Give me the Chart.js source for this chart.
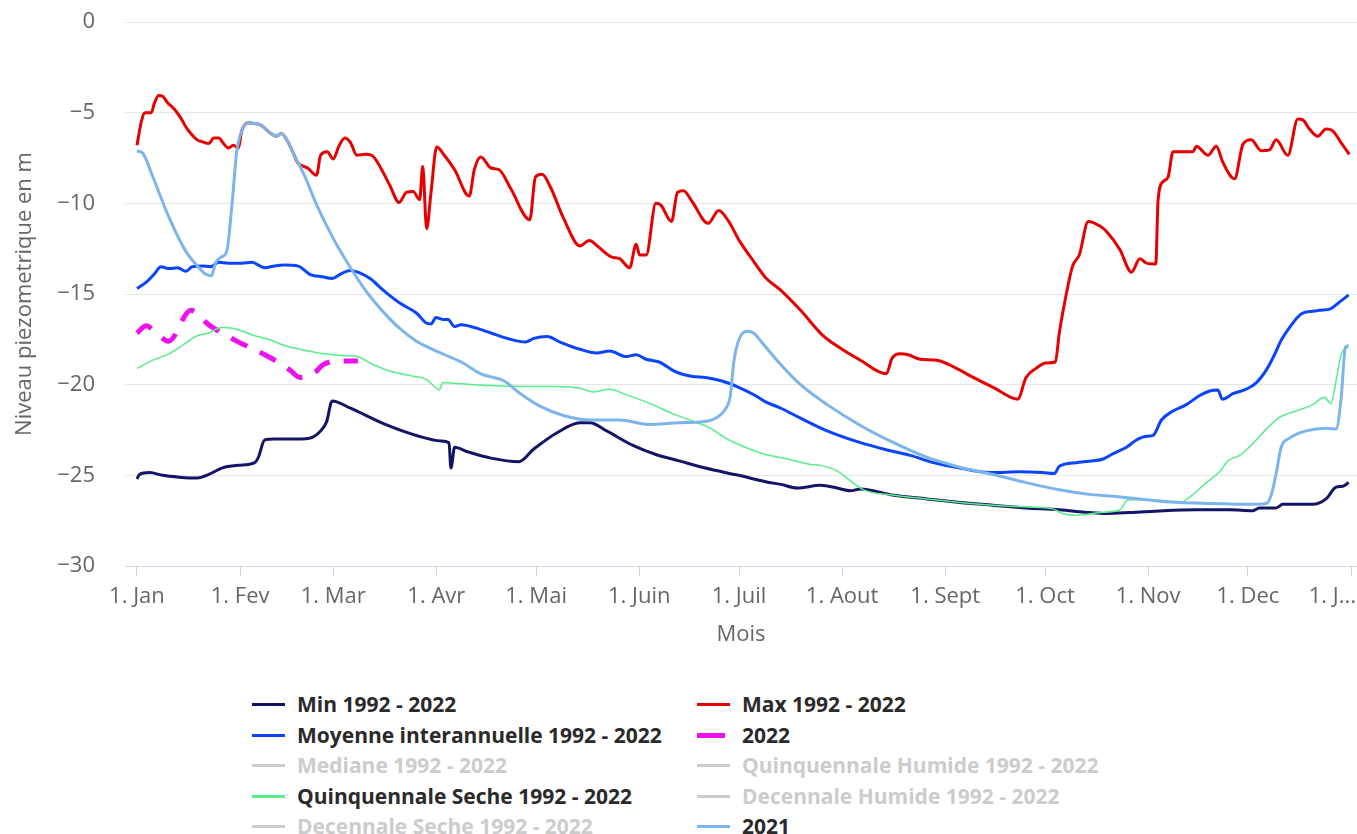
<!DOCTYPE html>
<html>
<head>
<meta charset="utf-8">
<script src="https://cdn.jsdelivr.net/npm/chart.js@4.4.0/dist/chart.umd.min.js"></script>
<style>
  body { margin: 0; background: #fff; width: 1357px; height: 834px; overflow: hidden; position: relative; font-family: "Open Sans", sans-serif; }
  #wrap { position: absolute; left: 0; top: 0; width: 1357px; height: 660px; }
  .leg { position: absolute; font-weight: bold; font-size: 21px; line-height: 24px; color: #2a2a2a; white-space: nowrap; }
  .leg i { position: absolute; left: -45px; top: 11px; width: 33px; height: 3px; }
</style>
</head>
<body>
<div id="wrap"><canvas id="myChart"></canvas></div>
<div id="legend"></div>
<script>
// axis
let monthStart = [0, 31, 59, 90, 120, 151, 181, 212, 243, 273, 304, 334, 365];
let monthLabels = ['1. Jan', '1. Fev', '1. Mar', '1. Avr', '1. Mai', '1. Juin', '1. Juil', '1. Aout', '1. Sept', '1. Oct', '1. Nov', '1. Dec', '1. J...'];
let levelTicks = [0, -5, -10, -15, -20, -25, -30];

// Min 1992 - 2022
let minDays = [0, 0.8, 3.8, 7.7, 12.7, 18.1, 21.6, 25.5, 30.5, 35.4, 36.4, 38.4, 41.4, 46.3, 51.8, 55.2, 57, 58.7, 64.2, 74.1, 84, 91.4, 93.8, 94.4, 95.5, 99.4, 106.4, 114.8, 119.3, 126.3, 133.2, 136.2, 141.2, 149.1, 156, 163, 170.9, 180.9, 189, 193.6, 198.5, 205.5, 210.5, 214.5, 217.5, 227.5, 237.4, 247.4, 257.4, 267.3, 277.3, 286.3, 291.5, 298.5, 308.5, 318.5, 328.5, 335.5, 337.5, 342.5, 344.5, 353.5, 357.5, 360.5, 362.5, 364.3];
let minLevels = [-25.2, -24.95, -24.85, -25.0, -25.1, -25.15, -24.95, -24.6, -24.45, -24.3, -24.05, -23.05, -23.0, -23.0, -22.95, -22.55, -22.05, -20.9, -21.3, -22.15, -22.8, -23.1, -23.2, -24.6, -23.45, -23.7, -24.05, -24.25, -23.55, -22.65, -22.1, -22.1, -22.55, -23.35, -23.85, -24.2, -24.6, -25.0, -25.35, -25.5, -25.7, -25.55, -25.7, -25.85, -25.75, -26.1, -26.3, -26.5, -26.65, -26.8, -26.9, -27.05, -27.1, -27.05, -26.95, -26.9, -26.9, -26.95, -26.8, -26.8, -26.6, -26.6, -26.3, -25.65, -25.6, -25.4];

// Max 1992 - 2022
let maxDays = [0, 1.3, 2.3, 4.3, 5.2, 6.5, 7.7, 9.2, 11.2, 13.2, 15.1, 18.1, 19.6, 21.6, 23.1, 24.6, 26, 27.5, 29, 30.5, 31.5, 33.5, 35.4, 37.4, 39.9, 41.9, 43.4, 44.9, 47.3, 48.3, 51.3, 54, 55.2, 57.2, 59, 60.7, 62.5, 64.2, 66.1, 68.6, 70.6, 73, 76, 78.8, 81, 83, 85, 85.9, 87.1, 88.4, 90.1, 92.4, 95.5, 99.9, 101.4, 103.4, 106.4, 108.9, 112.4, 118.1, 119.8, 121.8, 124.3, 128.2, 133.2, 136, 138.7, 142.6, 145.1, 148.1, 150.1, 151.1, 153.1, 156, 157.5, 160.7, 162.5, 164.3, 166.9, 171.7, 174.9, 177.9, 180.9, 185.4, 189, 193.6, 199.5, 206, 212, 217.5, 225.3, 227, 229.4, 231.9, 235.4, 240.4, 246.4, 251.4, 257.4, 264.8, 267.3, 270.3, 273.3, 276.1, 277.3, 279.3, 281.3, 283.3, 286, 289.5, 291.5, 295.5, 299, 301.5, 303.5, 306.3, 307, 308.5, 310, 311.5, 317.5, 318.5, 322, 324.5, 326.5, 330, 332.5, 335, 338, 340.5, 342.5, 346, 349, 350.5, 352.5, 355, 357.5, 359.5, 362, 364.5];
let maxLevels = [-6.8, -5.5, -5.0, -5.0, -4.5, -4.05, -4.1, -4.45, -4.8, -5.3, -5.9, -6.5, -6.6, -6.7, -6.4, -6.4, -6.7, -6.95, -6.8, -6.95, -6.0, -5.55, -5.6, -5.7, -6.1, -6.3, -6.15, -6.45, -7.35, -7.75, -8.05, -8.45, -7.35, -7.15, -7.55, -6.85, -6.4, -6.65, -7.35, -7.3, -7.35, -7.95, -9.0, -9.95, -9.4, -9.35, -9.8, -7.95, -11.4, -9.4, -6.9, -7.35, -8.15, -9.6, -8.15, -7.45, -8.05, -8.15, -9.2, -10.9, -8.55, -8.4, -9.1, -10.8, -12.35, -12.05, -12.4, -12.95, -13.05, -13.55, -12.25, -12.85, -12.85, -10.0, -10.1, -11.0, -9.4, -9.3, -9.9, -11.1, -10.4, -11.0, -12.0, -13.2, -14.1, -14.8, -15.9, -17.25, -18.05, -18.65, -19.4, -18.55, -18.3, -18.35, -18.6, -18.65, -19.1, -19.6, -20.15, -20.8, -19.6, -19.1, -18.8, -18.75, -17.15, -15.1, -13.45, -12.85, -11.0, -11.25, -11.55, -12.55, -13.8, -13.05, -13.3, -13.35, -9.8, -8.8, -8.55, -7.15, -7.15, -6.85, -7.35, -6.85, -7.75, -8.65, -6.75, -6.5, -7.1, -7.05, -6.5, -7.35, -5.35, -5.4, -5.9, -6.3, -5.9, -6.0, -6.65, -7.3];

// Moyenne interannuelle 1992 - 2022
let meanDays = [0, 2.8, 5.2, 7.2, 9.7, 12.2, 14.7, 16.6, 19.6, 22.1, 24.6, 27.5, 31.5, 34.5, 38.4, 41.4, 44.4, 48.3, 52.3, 55.7, 58.7, 61.2, 64.2, 67.1, 70.1, 74.1, 79, 84, 87, 88.4, 89.9, 91.9, 93.5, 95.5, 97.5, 101.4, 106.4, 111.4, 116.8, 119.3, 123.3, 127.2, 133.2, 138.2, 142.1, 147.1, 150.1, 153.1, 157, 162, 167, 170.9, 175.9, 180.9, 185.9, 189, 193.6, 199.5, 207.5, 217.5, 225.5, 232.5, 239.4, 247.4, 257.4, 265.3, 272.3, 275.8, 277.3, 282.3, 287.5, 290.5, 293.5, 297.5, 300.5, 303.5, 305.5, 308, 311.5, 315.5, 319.5, 322.5, 325, 326.3, 329.5, 333.5, 336.5, 339.5, 342, 344, 346.5, 350, 353.5, 355.5, 359, 361.5, 364.3];
let meanLevels = [-14.7, -14.35, -13.9, -13.5, -13.6, -13.55, -13.75, -13.5, -13.45, -13.5, -13.25, -13.3, -13.3, -13.25, -13.55, -13.45, -13.4, -13.45, -13.95, -14.05, -14.15, -13.9, -13.7, -13.85, -14.15, -14.8, -15.5, -16.05, -16.6, -16.65, -16.3, -16.4, -16.4, -16.8, -16.7, -16.85, -17.15, -17.45, -17.65, -17.45, -17.35, -17.65, -18.05, -18.25, -18.15, -18.45, -18.35, -18.6, -18.75, -19.3, -19.55, -19.6, -19.8, -20.15, -20.6, -20.95, -21.3, -21.85, -22.55, -23.2, -23.6, -23.9, -24.3, -24.6, -24.85, -24.8, -24.85, -24.9, -24.5, -24.3, -24.2, -24.1, -23.8, -23.45, -23.05, -22.85, -22.8, -21.95, -21.45, -21.1, -20.6, -20.35, -20.3, -20.8, -20.5, -20.25, -19.9, -19.2, -18.35, -17.55, -16.85, -16.1, -15.95, -15.9, -15.8, -15.45, -15.05];

// 2022
let y2022Days = [0, 2.8, 5, 9.5, 16.2, 21.6, 30, 40, 46, 49, 53, 56, 60, 66.4];
let y2022Levels = [-17.15, -16.75, -17.0, -17.6, -15.9, -16.7, -17.6, -18.5, -19.2, -19.6, -19.4, -18.9, -18.7, -18.7];

// Quinquennale Seche 1992 - 2022
let dryDays = [0, 4.8, 10.2, 12.7, 15.1, 18.1, 21.6, 23.6, 25.5, 29, 32.5, 35.4, 39.4, 45.3, 50.3, 56.2, 62.2, 66.1, 71.1, 76, 82, 86.9, 89.4, 90.9, 91.9, 93, 97.5, 106.4, 116.3, 126.3, 133.2, 137.2, 142.1, 147.1, 155, 161, 167, 172.9, 176.9, 182.9, 189, 195.6, 202.5, 205.5, 210.5, 214.5, 218.5, 227.5, 237.4, 247.4, 257.4, 267.3, 275.3, 278.3, 283, 289.5, 295.5, 298, 303.5, 309.5, 313.5, 316.5, 321.5, 325.5, 328, 331.5, 335.5, 339.5, 343.5, 348.5, 353.5, 357, 359, 360.5, 362, 363, 364];
let dryLevels = [-19.1, -18.65, -18.25, -17.95, -17.65, -17.3, -17.15, -16.95, -16.85, -16.9, -17.1, -17.3, -17.5, -17.9, -18.1, -18.3, -18.4, -18.45, -18.9, -19.25, -19.5, -19.7, -20.1, -20.3, -19.9, -19.9, -19.95, -20.05, -20.1, -20.1, -20.2, -20.4, -20.25, -20.55, -21.1, -21.6, -22.0, -22.45, -22.95, -23.45, -23.85, -24.1, -24.4, -24.45, -24.75, -25.3, -25.8, -26.1, -26.3, -26.5, -26.65, -26.75, -26.85, -27.1, -27.2, -27.05, -26.9, -26.35, -26.35, -26.5, -26.5, -26.2, -25.4, -24.8, -24.2, -23.9, -23.25, -22.45, -21.8, -21.45, -21.1, -20.7, -21.05, -19.8, -18.35, -18.05, -17.95];

// 2021
let y2021Days = [0, 1.8, 4.8, 9.7, 14.7, 18.1, 20.6, 22.4, 23.6, 25.5, 27, 28.5, 30, 31.5, 33.5, 35.4, 37.4, 39.9, 41.9, 43.4, 44.9, 47.3, 50.3, 54.3, 59.2, 64.2, 69.1, 74.1, 79, 84, 88.9, 92.5, 97.5, 103.4, 110.4, 115.3, 121.3, 128.2, 136.2, 145.1, 154.1, 163, 170, 173.9, 176.9, 178.4, 179.4, 180.9, 183.4, 185.4, 188, 193.6, 199.5, 207.5, 217.5, 227.5, 237.4, 247.4, 257.4, 267.3, 277.3, 286.3, 293.5, 303.5, 313.5, 323.5, 333.5, 339.5, 341, 342.5, 344, 346.5, 351.5, 357.5, 360.5, 362, 363.3, 364.3];
let y2021Levels = [-7.1, -7.25, -8.55, -10.8, -12.65, -13.45, -13.9, -14.0, -13.3, -12.95, -12.65, -10.2, -7.15, -6.0, -5.55, -5.6, -5.7, -6.1, -6.3, -6.15, -6.45, -7.35, -8.45, -10.2, -12.0, -13.55, -14.9, -16.0, -16.9, -17.6, -18.05, -18.35, -18.75, -19.4, -19.8, -20.5, -21.2, -21.7, -21.95, -21.95, -22.2, -22.1, -22.05, -21.85, -21.35, -20.6, -18.8, -17.55, -17.05, -17.15, -17.7, -18.9, -20.0, -21.1, -22.25, -23.2, -24.0, -24.55, -24.95, -25.4, -25.8, -26.05, -26.15, -26.35, -26.5, -26.55, -26.6, -26.55, -26.1, -24.9, -23.45, -22.95, -22.55, -22.4, -22.45, -20.8, -17.95, -17.85];

// legend
let legendNames = ['Min 1992 - 2022', 'Max 1992 - 2022', 'Moyenne interannuelle 1992 - 2022', '2022',
  'Mediane 1992 - 2022', 'Quinquennale Humide 1992 - 2022', 'Quinquennale Seche 1992 - 2022',
  'Decennale Humide 1992 - 2022', 'Decennale Seche 1992 - 2022', '2021'];
let legendColors = ['#141466', '#e60000', '#0a44ff', '#ee11ee', '#cccccc', '#cccccc', '#55ee88', '#cccccc', '#cccccc', '#7cb5ec'];
let legendHidden = [false, false, false, false, true, true, false, true, true, false];

function toPoints(days, levels) {
  let pts = [];
  for (let i = 0; i < days.length; i++) {
    pts.push({ x: days[i], y: levels[i] });
  }
  return pts;
}

function line(label, days, levels, color, width, order) {
  return {
    label: label,
    data: toPoints(days, levels),
    borderColor: color,
    borderWidth: width,
    pointRadius: 0,
    cubicInterpolationMode: 'monotone',
    fill: false,
    order: order
  };
}

let datasets = [
  line('Min 1992 - 2022', minDays, minLevels, '#141466', 3, 5),
  line('Max 1992 - 2022', maxDays, maxLevels, '#e60000', 3, 4),
  line('Moyenne interannuelle 1992 - 2022', meanDays, meanLevels, '#0a44ff', 3, 3),
  line('2022', y2022Days, y2022Levels, '#ee11ee', 5, 2),
  line('Quinquennale Seche 1992 - 2022', dryDays, dryLevels, '#55ee88', 1.5, 1),
  line('2021', y2021Days, y2021Levels, '#7cb5ec', 3, 0)
];
datasets[3].borderDash = [18, 14];

// last month label is cut like in the original, drawn against the right edge
let lastLabel = {
  id: 'lastLabel',
  afterDraw(chart) {
    let ctx = chart.ctx;
    ctx.save();
    ctx.font = '22px "Open Sans"';
    ctx.fillStyle = '#666';
    ctx.textAlign = 'right';
    ctx.textBaseline = 'middle';
    ctx.fillText(monthLabels[12], chart.width - 1, 597);
    ctx.restore();
  }
};

let ctx = document.getElementById('myChart').getContext('2d');
let myChart = new Chart(ctx, {
  type: 'line',
  data: { datasets: datasets },
  options: {
    responsive: true,
    maintainAspectRatio: false,
    animation: false,
    layout: { padding: { top: 22, left: 0, right: 0, bottom: 0 } },
    plugins: { legend: { display: false }, tooltip: { enabled: false } },
    scales: {
      x: {
        type: 'linear',
        min: -3.6,
        max: 366.8,
        afterBuildTicks: function (axis) {
          axis.ticks = monthStart.map(v => ({ value: v }));
        },
        afterFit: function (scale) {
          scale.height = 94;
          scale.paddingLeft = 0;
          scale.paddingRight = 0;
        },
        ticks: {
          autoSkip: false,
          maxRotation: 0,
          padding: 8,
          color: '#666',
          font: { family: 'Open Sans', size: 22 },
          callback: function (value, index) {
            return index < 12 ? monthLabels[index] : '';
          }
        },
        grid: { drawOnChartArea: false, drawTicks: true, tickLength: 10, color: '#ccd6eb' },
        border: { color: '#ccd6eb', width: 1 },
        title: {
          display: true,
          text: 'Mois',
          color: '#666',
          font: { family: 'Open Sans', size: 22 },
          padding: { top: 0, bottom: 12 }
        }
      },
      y: {
        min: -30,
        max: 0,
        afterBuildTicks: function (axis) {
          axis.ticks = levelTicks.map(v => ({ value: v }));
        },
        afterFit: function (scale) {
          scale.width = 125;
          scale.paddingTop = 0;
          scale.paddingBottom = 0;
        },
        ticks: {
          padding: 30,
          color: '#666',
          font: { family: 'Open Sans', size: 22 },
          callback: function (value) {
            return String(value).replace('-', '\u2212');
          }
        },
        grid: { color: '#e6e6e6', drawTicks: false },
        border: { display: false },
        title: {
          display: true,
          text: 'Niveau piezometrique en m',
          color: '#666',
          font: { family: 'Open Sans', size: 22 },
          padding: { top: 12, bottom: 0 }
        }
      }
    }
  },
  plugins: [lastLabel]
});

// legend, two columns like the original
let legendBox = document.getElementById('legend');
for (let i = 0; i < legendNames.length; i++) {
  let col = i % 2;
  let row = Math.floor(i / 2);
  let item = document.createElement('div');
  item.className = 'leg';
  item.style.left = (col === 0 ? 297 : 742) + 'px';
  item.style.top = (692 + row * 30.5) + 'px';
  if (legendHidden[i]) item.style.color = '#cccccc';
  let mark = document.createElement('i');
  mark.style.background = legendColors[i];
  if (legendNames[i] === '2022') {
    mark.style.height = '5px';
    mark.style.top = '10px';
    mark.style.width = '28px';
  }
  item.appendChild(mark);
  item.appendChild(document.createTextNode(legendNames[i]));
  legendBox.appendChild(item);
}
</script>
</body>
</html>
